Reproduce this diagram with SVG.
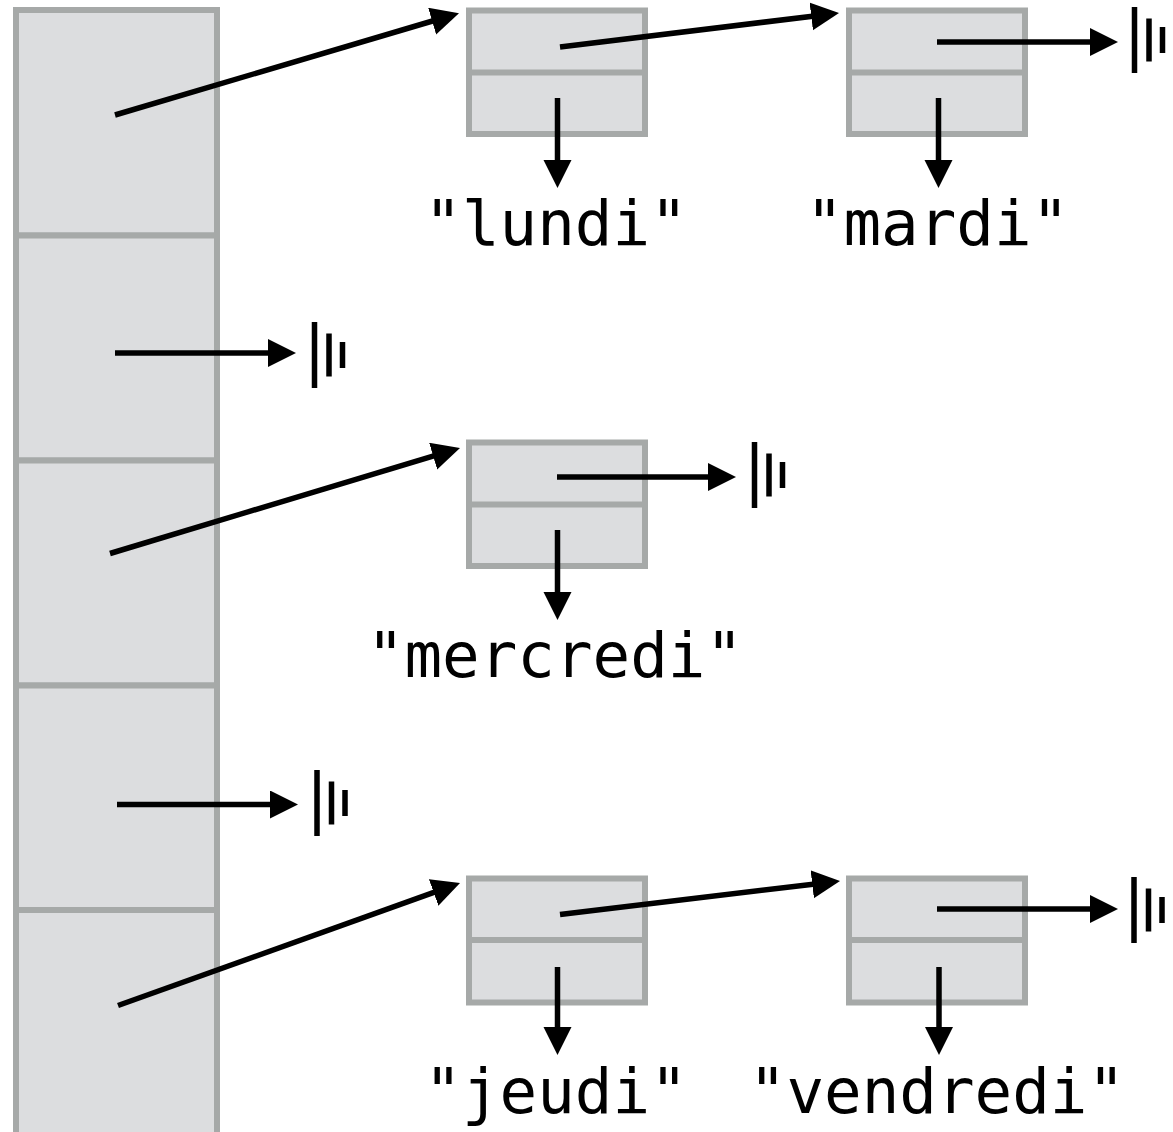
<svg xmlns="http://www.w3.org/2000/svg" width="1173" height="1132" viewBox="0 0 1173 1132">
<style>
.cell{fill:#dcdddf;stroke:#a6a9a8;stroke-width:6}
.div{stroke:#a6a9a8;stroke-width:6}
.conn{stroke:#000;stroke-width:5.5;fill:none;marker-end:url(#ah)}
.lbl{font-family:"DejaVu Sans Mono","Liberation Mono",monospace;font-size:62.5px;fill:#000;text-anchor:middle}
</style>
<defs>
<marker id="ah" markerUnits="userSpaceOnUse" markerWidth="30" markerHeight="30" refX="18" refY="14" orient="auto">
<path d="M0,0 L28,14 L0,28 Z" fill="#000"/>
</marker>
<g id="null">
<rect x="-2.75" y="-33" width="5.5" height="66" fill="#000"/>
<rect x="11.75" y="-21.5" width="5.5" height="43" fill="#000"/>
<rect x="25.25" y="-13" width="5.5" height="26" fill="#000"/>
</g>
</defs>

<g id="table">
<rect class="cell" x="16" y="10" width="201" height="225.5"/>
<rect class="cell" x="16" y="235.5" width="201" height="225"/>
<rect class="cell" x="16" y="460.5" width="201" height="225"/>
<rect class="cell" x="16" y="685.5" width="201" height="224.5"/>
<rect class="cell" x="16" y="910" width="201" height="230"/>
</g>

<g id="node-lundi">
<rect class="cell" x="469" y="10.5" width="176" height="123.5"/>
<line class="div" x1="469" y1="72.5" x2="645" y2="72.5"/>
</g>
<g id="node-mardi">
<rect class="cell" x="849" y="10.5" width="176" height="123.5"/>
<line class="div" x1="849" y1="72.5" x2="1025" y2="72.5"/>
</g>
<g id="node-mercredi">
<rect class="cell" x="469" y="442.5" width="176" height="123.5"/>
<line class="div" x1="469" y1="504.5" x2="645" y2="504.5"/>
</g>
<g id="node-jeudi">
<rect class="cell" x="469" y="878.5" width="176" height="124"/>
<line class="div" x1="469" y1="940" x2="645" y2="940"/>
</g>
<g id="node-vendredi">
<rect class="cell" x="849" y="878.5" width="176" height="124"/>
<line class="div" x1="849" y1="940" x2="1025" y2="940"/>
</g>

<g id="labels">
<text class="lbl" x="556" y="245">"lundi"</text>
<text class="lbl" x="937.5" y="245">"mardi"</text>
<text class="lbl" x="555" y="677">"mercredi"</text>
<text class="lbl" x="556" y="1113">"jeudi"</text>
<text class="lbl" x="937" y="1113">"vendredi"</text>
</g>

<g id="nulls">
<use href="#null" x="1134.5" y="40"/>
<use href="#null" x="314.5" y="355"/>
<use href="#null" x="754.5" y="475"/>
<use href="#null" x="317" y="803"/>
<use href="#null" x="1134" y="910"/>
</g>

<g id="connectors">
<path class="conn" d="M115,115 L449.4,16"/>
<path class="conn" d="M560,47 L829.1,14.2"/>
<path class="conn" d="M937,42 L1108,42"/>
<path class="conn" d="M557.5,98 L557.5,178"/>
<path class="conn" d="M938.5,98 L938.5,178"/>
<path class="conn" d="M115,353 L286,353"/>
<path class="conn" d="M110,553.5 L450.4,450.9"/>
<path class="conn" d="M557,477 L726,477"/>
<path class="conn" d="M557.5,530 L557.5,610"/>
<path class="conn" d="M117,804.5 L288,804.5"/>
<path class="conn" d="M118,1005.5 L450.6,886.4"/>
<path class="conn" d="M560,914.5 L830.1,882.2"/>
<path class="conn" d="M937,909 L1108,909"/>
<path class="conn" d="M557.5,967 L557.5,1045"/>
<path class="conn" d="M939,967 L939,1045"/>
</g>
</svg>
